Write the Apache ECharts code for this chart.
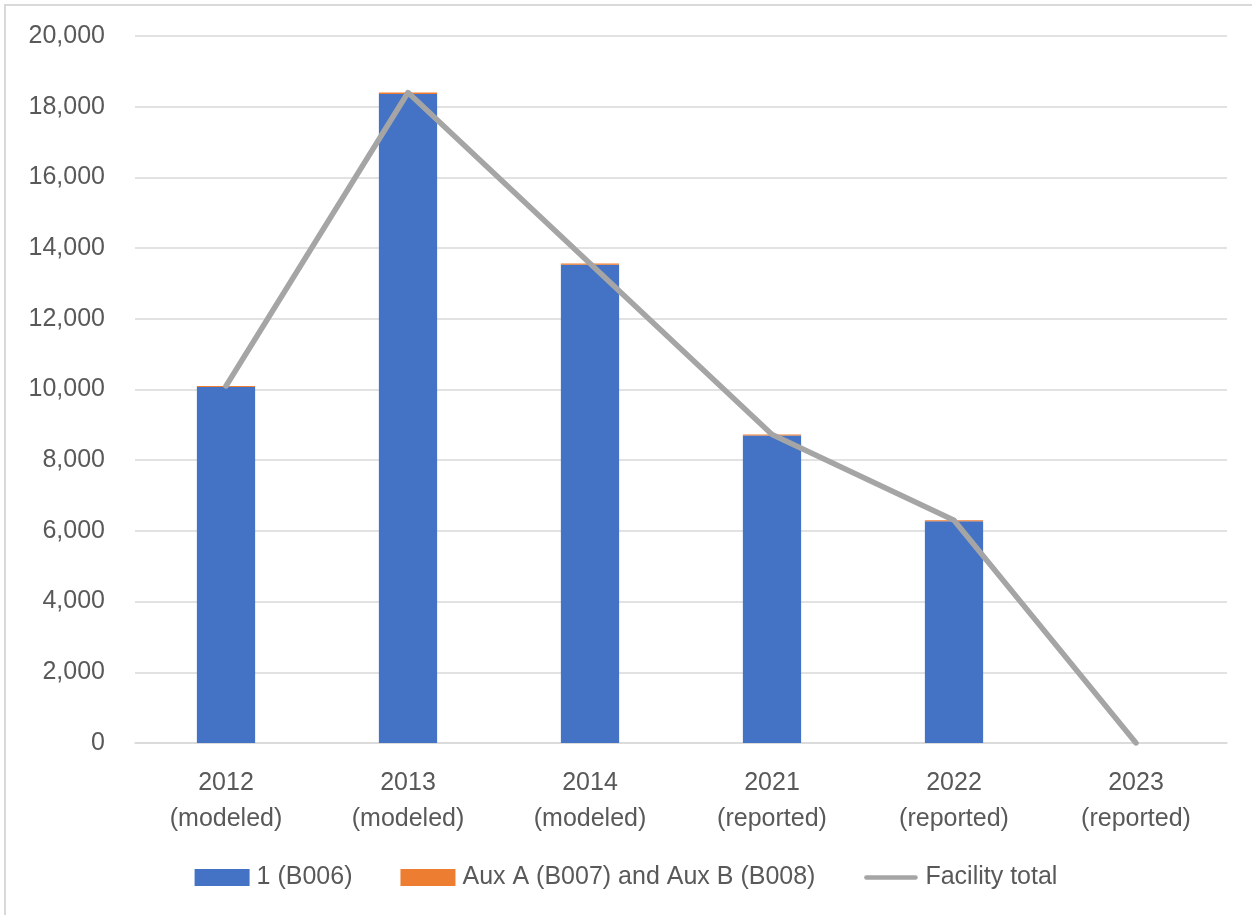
<!DOCTYPE html>
<html>
<head>
<meta charset="utf-8">
<title>Facility emissions by unit</title>
<script src="https://cdn.jsdelivr.net/npm/echarts@6/dist/echarts.min.js"></script>
<style>
  html, body { margin: 0; padding: 0; background: #ffffff; }
  #chart { width: 1252px; height: 915px; }
</style>
</head>
<body>
<div id="chart"></div>
<script>
// Years, with the basis of each value on a second line
const categories = [
  '2012\n(modeled)', '2013\n(modeled)', '2014\n(modeled)',
  '2021\n(reported)', '2022\n(reported)', '2023\n(reported)'
];
// Unit 1 (B006)
const unit1 = [10070, 18360, 13530, 8700, 6275, 0];
// Aux A (B007) and Aux B (B008) combined
const auxAB = [30, 40, 35, 30, 28, 0];
// Facility total = sum of the units
const facilityTotal = unit1.map((v, i) => v + auxAB[i]);

const yTicks = { min: 0, max: 20000, interval: 2000 };

const FONT = '"Liberation Sans", Arial, sans-serif';
const TEXT = '#595959';
const GRID = '#d9d9d9';

// Thick rounded bar for the line's legend key; the leading moveTo points
// fix the icon box so the bar stays thin and vertically centred.
const LINE_KEY = 'path://M0,0M55,17M3,6.2H52A2.3,2.3,0,0,1,52,10.8H3A2.3,2.3,0,0,1,3,6.2Z';

const chart = echarts.init(document.getElementById('chart'), null, { renderer: 'canvas' });

chart.setOption({
  backgroundColor: '#ffffff',
  animation: false,
  textStyle: { fontFamily: FONT },
  graphic: [
    {
      type: 'polyline',
      shape: { points: [[5, 915], [5, 5], [1252, 5]] },
      style: { stroke: GRID, lineWidth: 2, fill: null },
      silent: true
    }
  ],
  grid: { left: 135, right: 25, top: 36, bottom: 172, containLabel: false },
  legend: {
    bottom: 20,
    left: 'center',
    itemWidth: 55,
    itemHeight: 17,
    itemGap: 48,
    textStyle: { fontFamily: FONT, fontSize: 25, color: TEXT, padding: [0, 0, 0, 2] },
    data: [
      { name: '1 (B006)', icon: 'rect' },
      { name: 'Aux A (B007) and Aux B (B008)', icon: 'rect' },
      { name: 'Facility total', icon: LINE_KEY }
    ]
  },
  xAxis: {
    type: 'category',
    data: categories,
    axisLine: { show: true, lineStyle: { color: GRID, width: 1.5 } },
    axisTick: { show: false },
    axisLabel: {
      fontFamily: FONT,
      fontSize: 25,
      color: TEXT,
      lineHeight: 36,
      margin: 22,
      interval: 0
    }
  },
  yAxis: {
    type: 'value',
    min: yTicks.min,
    max: yTicks.max,
    interval: yTicks.interval,
    axisLine: { show: false },
    axisTick: { show: false },
    splitLine: { lineStyle: { color: GRID, width: 1.5 } },
    axisLabel: {
      fontFamily: FONT,
      fontSize: 25,
      color: TEXT,
      margin: 30,
      formatter: v => v.toLocaleString('en-US')
    }
  },
  series: [
    {
      name: '1 (B006)',
      type: 'bar',
      stack: 'units',
      barWidth: '32%',
      itemStyle: { color: '#4472c4' },
      data: unit1
    },
    {
      name: 'Aux A (B007) and Aux B (B008)',
      type: 'bar',
      stack: 'units',
      barWidth: '32%',
      itemStyle: { color: '#ed7d31' },
      data: auxAB
    },
    {
      name: 'Facility total',
      type: 'line',
      symbol: 'none',
      z: 5,
      lineStyle: { color: '#a5a5a5', width: 5.5, cap: 'round', join: 'round' },
      itemStyle: { color: '#a5a5a5' },
      data: facilityTotal
    }
  ]
});
</script>
</body>
</html>
